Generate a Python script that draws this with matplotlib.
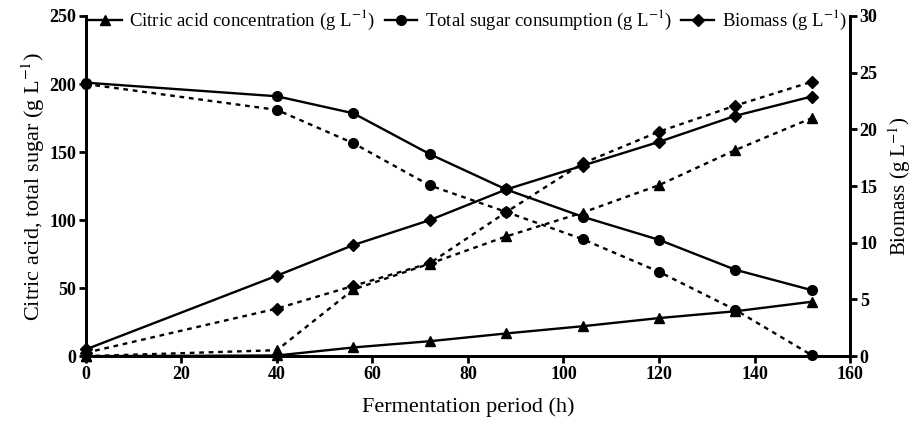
import numpy as np
import matplotlib.pyplot as plt

plt.rcParams['font.family'] = ['Liberation Serif', 'DejaVu Serif']
plt.rcParams['mathtext.fontset'] = 'stix'

hours = [0, 40, 56, 72, 88, 104, 120, 136, 152]

# left axis (g/L)
citric_solid = [0, 0.5, 6.4, 11, 16.7, 22, 28, 33, 40]
citric_dash = [0, 4.4, 49, 68, 88, 105.5, 125.7, 151.5, 175]
sugar_solid = [201, 191, 178.5, 148.5, 122.5, 102.5, 85.5, 63.5, 48.5]
sugar_dash = [200, 181, 156.5, 125.5, 106, 86, 62, 34, 0.7]
# right axis (g/L)
biomass_solid = [0.6, 7.1, 9.8, 12.0, 14.7, 16.8, 18.9, 21.2, 22.9]
biomass_dash = [0.3, 4.2, 6.2, 8.2, 12.7, 17.0, 19.8, 22.1, 24.2]

fig = plt.figure(figsize=(9.14, 4.21), dpi=100)
ax = fig.add_axes([0.094, 0.154, 0.836, 0.808])
ax2 = ax.twinx()

lw = 1.7
dash = (0, (2.0, 2.0))
kw = dict(color='black', clip_on=False)

l1, = ax.plot(hours, citric_solid, '-', marker='^', ms=7.5, lw=lw, **kw)
ax.plot(hours, citric_dash, linestyle=dash, marker='^', ms=7.5, lw=lw, **kw)
l2, = ax.plot(hours, sugar_solid, '-', marker='o', ms=7, lw=lw, **kw)
ax.plot(hours, sugar_dash, linestyle=dash, marker='o', ms=7, lw=lw, **kw)
l3, = ax2.plot(hours, biomass_solid, '-', marker='D', ms=6, lw=lw, **kw)
ax2.plot(hours, biomass_dash, linestyle=dash, marker='D', ms=6, lw=lw, **kw)

ax.set_xlim(0, 160)
ax.set_ylim(0, 250)
ax2.set_ylim(0, 30)
ax.set_xticks(np.arange(0, 161, 20))
ax.set_yticks(np.arange(0, 251, 50))
ax2.set_yticks(np.arange(0, 31, 5))

for a in (ax, ax2):
    a.spines['top'].set_visible(False)
    for s in a.spines.values():
        s.set_linewidth(2)
    a.tick_params(width=2, length=5, labelsize=13, pad=2)
    for t in a.get_xticklabels() + a.get_yticklabels():
        t.set_fontweight('bold')

ax.set_xlabel('Fermentation period (h)', fontsize=16, labelpad=10)
ax.set_ylabel('Citric acid, total sugar (g L$^{-1}$)', fontsize=16, labelpad=2)
ax2.set_ylabel('Biomass (g L$^{-1}$)', fontsize=15, labelpad=6)

ax.legend([l1, l2, l3],
          ['Citric acid concentration (g L$^{-1}$)',
           'Total sugar consumption (g L$^{-1}$)',
           'Biomass (g L$^{-1}$)'],
          loc='upper center', bbox_to_anchor=(0.5, 1.045), ncol=3,
          frameon=False, fontsize=13.5, handlelength=1.75, handletextpad=0.4,
          columnspacing=0.5, borderaxespad=0)

fig.savefig('out.png', dpi=100)
